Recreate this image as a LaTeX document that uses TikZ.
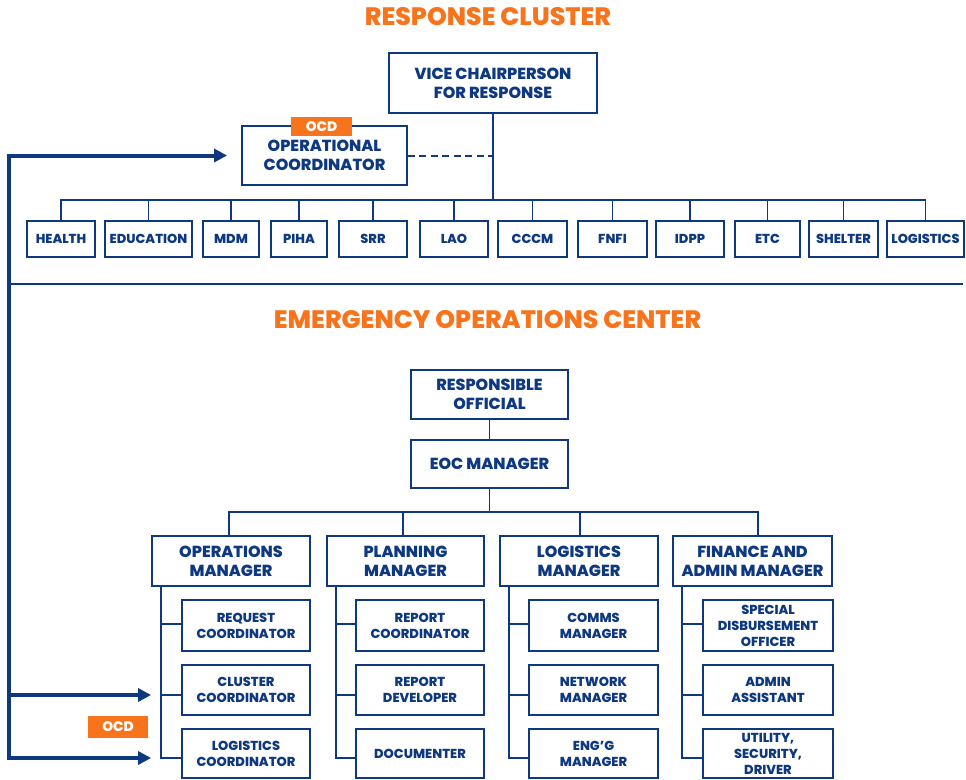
\documentclass[tikz,border=0pt]{standalone}
\usepackage{fontspec}
\setmainfont{Poppins}[BoldFont={* ExtraBold}]
\usetikzlibrary{arrows.meta}

\definecolor{navy}{RGB}{14,56,128}
\definecolor{ocdorange}{RGB}{248,116,28}

\newcommand\fTitle{\fontsize{25.2}{28}\selectfont\bfseries}
\newcommand\fMain{\fontsize{16}{19}\selectfont\bfseries}
\newcommand\fSub{\fontsize{13}{16}\selectfont\bfseries}
\newcommand\fClu{\fontsize{13}{14}\selectfont\bfseries}
\newcommand\fTag{\fontsize{13.8}{14}\selectfont\bfseries}

\tikzset{
  box/.style={draw=navy, line width=1.8pt, fill=white, text=navy,
    align=center, inner sep=0pt, font=\fMain},
  subbox/.style={box, font=\fSub, minimum height=50pt},
  clubox/.style={box, font=\fClu, minimum height=36pt},
  tag/.style={fill=ocdorange, text=white, inner sep=0pt, font=\fTag},
  title/.style={text=ocdorange, font=\fTitle, inner sep=0pt},
  link/.style={draw=navy, line width=1.6pt},
  fat/.style={draw=navy, line width=4pt, line cap=rect,
    -{Triangle[length=13pt,width=13pt]}},
}

\begin{document}
\begin{tikzpicture}[x=1pt,y=-1pt]
\useasboundingbox (0,0) rectangle (966,779);

% ---------- Response cluster ----------
\node[title] (t1) at (488,17) {RESPONSE CLUSTER};
\node[box, minimum width=208pt, minimum height=60pt] (vc) at (493,83)
  {VICE CHAIRPERSON\\FOR RESPONSE};
\node[box, minimum width=165pt, minimum height=59pt] (oc) at (324.5,155.5)
  {OPERATIONAL\\COORDINATOR};
\node[tag, minimum width=61pt, minimum height=19pt] (ocd1) at (321.5,126.5) {OCD};
\draw[link, line width=2pt, dash pattern=on 7pt off 4.5pt] (oc.east) -- (oc.east -| vc.south);

\coordinate (clbus) at (493,200);
\draw[link] (vc.south) -- (clbus);
\foreach \n/\cx/\w/\t in {
  health/61/68/HEALTH, edu/148.5/87/EDUCATION, mdm/231/56/MDM,
  piha/299/56/PIHA, srr/373/68/SRR, lao/454/68/LAO, cccm/532.5/69/CCCM,
  fnfi/612.5/69/FNFI, idpp/690/68/IDPP, etc/767.5/65/ETC,
  shelter/843.5/69/SHELTER, logi/925.5/77/LOGISTICS}{
  \node[clubox, minimum width=\w pt] (\n) at (\cx,239) {\t};
  \draw[link] (clbus) -| (\n.north);
}

\coordinate (sepL) at (9,284);
\coordinate (sepR) at (963,284);
\draw[link] (sepL) -- (sepR);

% ---------- Emergency operations center ----------
\node[title] (t2) at (487.5,320) {EMERGENCY OPERATIONS CENTER};
\node[box, minimum width=157pt, minimum height=49pt] (ro) at (489.5,394.5)
  {RESPONSIBLE\\OFFICIAL};
\node[box, minimum width=157pt, minimum height=48pt] (eoc) at (489.5,464)
  {EOC MANAGER};
\draw[link] (ro.south) -- (eoc.north);

\node[box, minimum width=158pt, minimum height=50pt] (om) at (231,561)
  {OPERATIONS\\MANAGER};
\node[box, minimum width=157pt, minimum height=50pt] (pm) at (405.5,561)
  {PLANNING\\MANAGER};
\node[box, minimum width=158pt, minimum height=50pt] (lm) at (579,561)
  {LOGISTICS\\MANAGER};
\node[box, minimum width=159pt, minimum height=50pt] (fm) at (752.5,561)
  {FINANCE AND\\ADMIN MANAGER};

\coordinate (eocbus) at (489.5,512);
\draw[link] (eoc.south) -- (eocbus);
\draw[link] (eocbus) -| ([xshift=-2pt]om.north);
\draw[link] (eocbus) -| ([xshift=-2.5pt]pm.north);
\draw[link] (eocbus) -| ([xshift=1pt]lm.north);
\draw[link] (eocbus) -| ([xshift=5.5pt]fm.north);

% staff rows
\node[subbox, minimum width=128pt, minimum height=51pt] (o1) at (246,625.5) {REQUEST\\COORDINATOR};
\node[subbox, minimum width=128pt] (o2) at (246,690) {CLUSTER\\COORDINATOR};
\node[subbox, minimum width=128pt, minimum height=49pt] (o3) at (246,753.5) {LOGISTICS\\COORDINATOR};

\node[subbox, minimum width=128pt, minimum height=51pt] (p1) at (420,625.5) {REPORT\\COORDINATOR};
\node[subbox, minimum width=128pt] (p2) at (420,690) {REPORT\\DEVELOPER};
\node[subbox, minimum width=128pt, minimum height=49pt] (p3) at (420,753.5) {DOCUMENTER};

\node[subbox, minimum width=129pt, minimum height=51pt] (l1) at (593.5,625.5) {COMMS\\MANAGER};
\node[subbox, minimum width=129pt] (l2) at (593.5,690) {NETWORK\\MANAGER};
\node[subbox, minimum width=129pt, minimum height=49pt] (l3) at (593.5,753.5) {ENG’G\\MANAGER};

\node[subbox, minimum width=130pt, minimum height=51pt] (f1) at (768,625.5) {SPECIAL\\DISBURSEMENT\\OFFICER};
\node[subbox, minimum width=130pt] (f2) at (768,690) {ADMIN\\ASSISTANT};
\node[subbox, minimum width=130pt, minimum height=49pt] (f3) at (768,753.5) {UTILITY,\\SECURITY,\\DRIVER};

\coordinate (r1) at (0,624);
\coordinate (r2) at (0,695);
\coordinate (r3) at (0,758);
\foreach \m/\s in {om/o, pm/p, lm/l, fm/f}{
  \coordinate (\s-top) at ([xshift=10pt]\m.south west);
  \draw[link] (\s-top) |- (\s3.west |- r3);
  \draw[link] (\s-top |- r1) -- (\s1.west |- r1);
  \draw[link] (\s-top |- r2) -- (\s2.west |- r2);
}

% ---------- OCD feed lines on the left ----------
\coordinate (feed) at (9,758);
\coordinate (octip) at ([xshift=-14pt]oc.west);
\draw[fat] (feed) |- (octip);
\draw[fat] (feed) -- (om.west |- r3);
\draw[fat] (feed |- r2) -- (om.west |- r2);
\node[tag, minimum width=60pt, minimum height=22pt] (ocd2) at (118,727) {OCD};
\end{tikzpicture}
\end{document}
